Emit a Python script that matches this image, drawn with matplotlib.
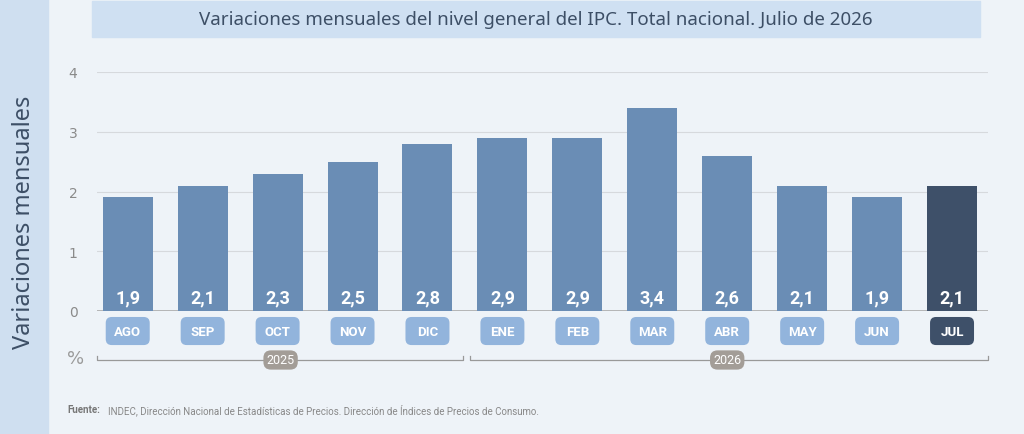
import matplotlib
matplotlib.use("Agg")
import matplotlib.pyplot as plt
from matplotlib.patches import FancyBboxPatch, Rectangle

months = ["AGO","SEP","OCT","NOV","DIC","ENE","FEB","MAR","ABR","MAY","JUN","JUL"]
values = [1.9, 2.1, 2.3, 2.5, 2.8, 2.9, 2.9, 3.4, 2.6, 2.1, 1.9, 2.1]
labels = ["1,9","2,1","2,3","2,5","2,8","2,9","2,9","3,4","2,6","2,1","1,9","2,1"]
years = ["2025", "2026"]
yticks = [0, 1, 2, 3, 4]

W, H = 1024, 435
fig = plt.figure(figsize=(W/100, H/100), dpi=100)
fig.patch.set_facecolor("#eef3f8")
fig.patches.append(Rectangle((0, 0), 48/W, 1, transform=fig.transFigure, color="#cfdff0", zorder=0))
fig.patches.append(Rectangle((92/W, 1-38/H), 888/W, 36/H, transform=fig.transFigure, color="#cfe0f2", zorder=0))
fig.text(536/W, 1-20/H, "Variaciones mensuales del nivel general del IPC. Total nacional. Julio de 2026",
         ha="center", va="center", fontsize=13.5, color="#3d4f66", family="Noto Sans")
fig.text(24/W, 1-222/H, "Variaciones mensuales", rotation=90, ha="center", va="center",
         fontsize=17, fontweight="bold", color="#3d4f66", family="Noto Sans")
fig.text(67/W, 1-410/H, "Fuente:", fontsize=7, fontweight="bold", color="#777777", va="center", family="Roboto")
fig.text(108/W, 1-410/H, "INDEC, Dirección Nacional de Estadísticas de Precios. Dirección de Índices de Precios de Consumo.",
         fontsize=7, color="#888888", va="center", family="Roboto")

ax = fig.add_axes([97/W, (H-312)/H, 891/W, 239/H])
ax.set_facecolor("none")
x = list(range(len(months)))
ax.set_xlim(-0.41, 11.48)
ax.set_ylim(0, 4)
for t in yticks:
    ax.axhline(t, color="#aaaaaa" if t == 0 else "#d6d9dd", lw=1.2 if t == 0 else 0.8, zorder=1)
colors = ["#6a8db5"]*11 + ["#3e5069"]
bw = 0.667
ax.bar(x, values, width=bw, color=colors, zorder=2)
for xi, lab in zip(x, labels):
    ax.text(xi, 0.23, lab, ha="center", va="center", color="white", fontsize=13, fontweight="bold", family="Roboto", zorder=3)
for xi, m in zip(x, months):
    c = "#3e5069" if m == "JUL" else "#92b4dc"
    ax.add_patch(FancyBboxPatch((xi-bw/2+0.04, -0.57), bw-0.08, 0.47,
                                boxstyle="round,pad=0.0,rounding_size=0.08", mutation_aspect=1/0.8,
                                linewidth=0, facecolor=c, clip_on=False, zorder=3))
    ax.text(xi, -0.335, m, ha="center", va="center", color="white", fontsize=9.5, fontweight="bold", family="Roboto", zorder=4)
ax.set_yticks(yticks)
ax.tick_params(axis="y", length=0, labelcolor="#8a8a8a", labelsize=10, pad=14)
ax.set_xticks([])
for s in ax.spines.values():
    s.set_visible(False)
ax.text(-0.7, -0.78, "%", ha="center", va="center", fontsize=13, color="#9a9a9a", clip_on=False)
# year brackets
for (x0, x1, yc), yr in zip([(-0.41, 4.48, 2.04), (4.57, 11.48, 8.0)], years):
    yb = -0.82
    ax.plot([x0, x0, x1, x1], [yb+0.07, yb, yb, yb+0.07], color="#999999", lw=0.9, clip_on=False, zorder=2)
    ax.text(yc, yb, yr, ha="center", va="center", fontsize=9, color="white", family="Roboto", zorder=4,
            bbox=dict(boxstyle="round,pad=0.25,rounding_size=0.6", fc="#a39d97", ec="none"), clip_on=False)

fig.savefig("out.png", dpi=100, facecolor=fig.get_facecolor())
